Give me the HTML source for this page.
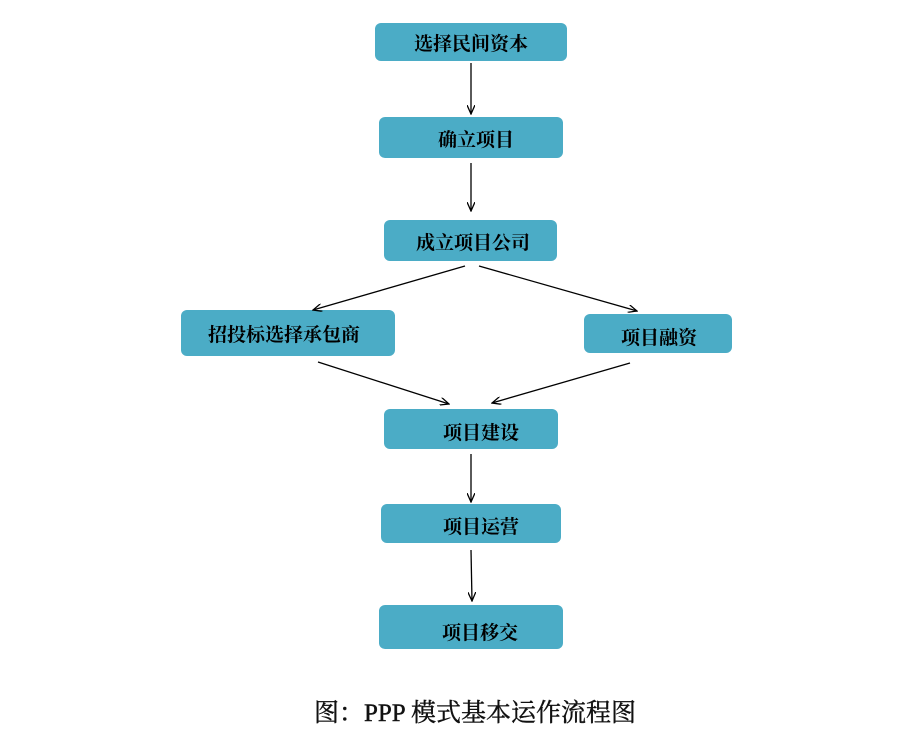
<!DOCTYPE html>
<html><head><meta charset="utf-8"><style>
html,body{margin:0;padding:0;background:#fff;width:922px;height:750px;overflow:hidden}
svg text{font-family:"Liberation Serif","Noto Serif CJK SC","Noto Sans CJK SC",serif;font-weight:bold;font-size:19px;fill:#000}
</style></head><body>
<svg width="922" height="750" viewBox="0 0 922 750" xmlns="http://www.w3.org/2000/svg">
<defs><marker id="a" markerWidth="10" markerHeight="8" refX="9" refY="4" orient="auto" markerUnits="userSpaceOnUse"><path d="M0,0 L9,4 L0,8" fill="none" stroke="#000" stroke-width="1.3"/></marker></defs>
<g fill="#4BACC6">
<rect x="375" y="23" width="192" height="38" rx="6"/>
<rect x="379" y="117" width="184" height="41" rx="6"/>
<rect x="384" y="220" width="173" height="41" rx="6"/>
<rect x="181" y="310" width="214" height="46" rx="6"/>
<rect x="584" y="314" width="148" height="39" rx="6"/>
<rect x="384" y="409" width="174" height="40" rx="6"/>
<rect x="381" y="504" width="180" height="39" rx="6"/>
<rect x="379" y="605" width="184" height="44" rx="6"/>
</g>
<g stroke="#000" stroke-width="1.3" marker-end="url(#a)">
<line x1="471" y1="63" x2="471" y2="114"/>
<line x1="471" y1="163" x2="471" y2="211"/>
<line x1="465" y1="266" x2="313" y2="310"/>
<line x1="479" y1="266" x2="637" y2="311"/>
<line x1="318" y1="362" x2="449" y2="404"/>
<line x1="630" y1="363" x2="492" y2="403"/>
<line x1="471" y1="454" x2="471" y2="502"/>
<line x1="471" y1="550" x2="472" y2="601"/>
</g>
<text x="471" y="50" text-anchor="middle">选择民间资本</text>
<text x="476" y="146" text-anchor="middle">确立项目</text>
<text x="473" y="249" text-anchor="middle">成立项目公司</text>
<text x="284" y="341" text-anchor="middle">招投标选择承包商</text>
<text x="659" y="344" text-anchor="middle">项目融资</text>
<text x="481" y="439" text-anchor="middle">项目建设</text>
<text x="481" y="533" text-anchor="middle">项目运营</text>
<text x="480" y="639" text-anchor="middle">项目移交</text>
<text x="475" y="721" text-anchor="middle" style="font-size:25px;font-weight:normal;fill:#111;stroke:#111;stroke-width:0.4">图：PPP 模式基本运作流程图</text>
</svg>
</body></html>
